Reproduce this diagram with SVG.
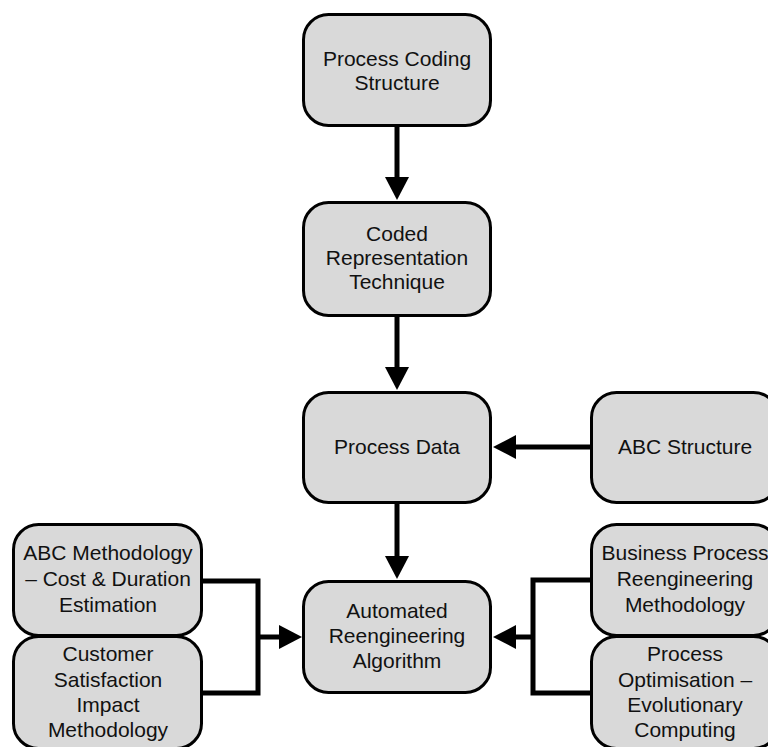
<svg xmlns="http://www.w3.org/2000/svg" width="768" height="747" viewBox="0 0 768 747">
  <style>
    .box { fill: #d9d9d9; stroke: #000; stroke-width: 3; }
    .lbl { font-family: "Liberation Sans", Arial, sans-serif; font-size: 21px; fill: #111; text-anchor: middle; }
    .wire { fill: none; stroke: #000; stroke-width: 5; stroke-linejoin: miter; }
  </style>
  <defs>
    <marker id="head" markerUnits="userSpaceOnUse" markerWidth="24" markerHeight="24" refX="0" refY="12" orient="auto" overflow="visible">
      <path d="M0,0 L23,12 L0,24 Z" fill="#000"/>
    </marker>
  </defs>

  <rect width="768" height="747" fill="#fff"/>

  <!-- connectors -->
  <g id="connectors">
    <path class="wire" d="M397,125 V177" marker-end="url(#head)"/>
    <path class="wire" d="M397,316 V367" marker-end="url(#head)"/>
    <path class="wire" d="M591,447 H516" marker-end="url(#head)"/>
    <path class="wire" d="M397,503 V556" marker-end="url(#head)"/>
    <!-- left bracket into the algorithm -->
    <path class="wire" d="M203,581 H258 V693 H203"/>
    <path class="wire" d="M258,637 H279" marker-end="url(#head)"/>
    <!-- right bracket into the algorithm -->
    <path class="wire" d="M591,580 H533 V693 H591"/>
    <path class="wire" d="M533,637 H516" marker-end="url(#head)"/>
  </g>

  <g id="process-coding-structure">
    <rect class="box" x="303.5" y="14.5" width="187" height="111" rx="25"/>
    <text class="lbl" x="397" y="66">Process Coding</text>
    <text class="lbl" x="397" y="90">Structure</text>
  </g>

  <g id="coded-representation-technique">
    <rect class="box" x="303.5" y="202.5" width="187" height="113" rx="25"/>
    <text class="lbl" x="397" y="241">Coded</text>
    <text class="lbl" x="397" y="265">Representation</text>
    <text class="lbl" x="397" y="289">Technique</text>
  </g>

  <g id="process-data">
    <rect class="box" x="303.5" y="392.5" width="187" height="110" rx="25"/>
    <text class="lbl" x="397" y="454">Process Data</text>
  </g>

  <g id="abc-structure">
    <rect class="box" x="591.5" y="392.5" width="187" height="110" rx="25"/>
    <text class="lbl" x="685" y="454">ABC Structure</text>
  </g>

  <g id="automated-reengineering-algorithm">
    <rect class="box" x="303.5" y="581.5" width="187" height="111" rx="25"/>
    <text class="lbl" x="397" y="618">Automated</text>
    <text class="lbl" x="397" y="643">Reengineering</text>
    <text class="lbl" x="397" y="668">Algorithm</text>
  </g>

  <g id="abc-methodology">
    <rect class="box" x="13.5" y="524.5" width="188" height="111" rx="25"/>
    <text class="lbl" x="108" y="560">ABC Methodology</text>
    <text class="lbl" x="108" y="586">– Cost &amp; Duration</text>
    <text class="lbl" x="108" y="612">Estimation</text>
  </g>

  <g id="customer-satisfaction">
    <rect class="box" x="13.5" y="636.5" width="188" height="112" rx="25"/>
    <text class="lbl" x="108" y="661">Customer</text>
    <text class="lbl" x="108" y="687">Satisfaction</text>
    <text class="lbl" x="108" y="712">Impact</text>
    <text class="lbl" x="108" y="737">Methodology</text>
  </g>

  <g id="business-process-reengineering">
    <rect class="box" x="591.5" y="524.5" width="187" height="111" rx="25"/>
    <text class="lbl" x="685" y="560">Business Process</text>
    <text class="lbl" x="685" y="586">Reengineering</text>
    <text class="lbl" x="685" y="612">Methodology</text>
  </g>

  <g id="process-optimisation">
    <rect class="box" x="591.5" y="636.5" width="187" height="112" rx="25"/>
    <text class="lbl" x="685" y="661">Process</text>
    <text class="lbl" x="685" y="687">Optimisation –</text>
    <text class="lbl" x="685" y="712">Evolutionary</text>
    <text class="lbl" x="685" y="737">Computing</text>
  </g>
</svg>
